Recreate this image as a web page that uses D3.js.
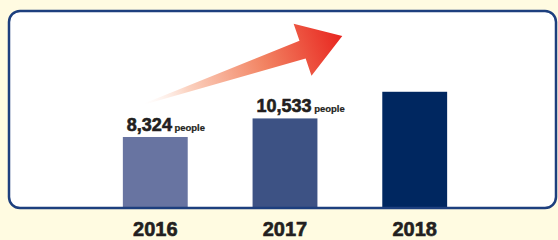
<!DOCTYPE html>
<html>
<head>
<meta charset="utf-8">
<script src="https://cdn.jsdelivr.net/npm/d3@7"></script>
<style>
  body { margin: 0; background: #fffbe1; }
  svg { display: block; }
</style>
</head>
<body>
<script>
// data
var years = ["2016", "2017", "2018"];
var people = [8324, 10533, 13700];
var showLabel = [true, true, false];
var barColors = ["#6874a1", "#3d5284", "#002760"];

var fmt = d3.format(",");

var width = 558, height = 240,
    box = {left: 9, top: 11, right: 556, bottom: 208},
    base = 207;

var svg = d3.select("body").append("svg")
    .attr("width", width)
    .attr("height", height);

var x = d3.scaleBand()
    .domain(years)
    .range([58, 512])
    .padding(0.5);

var y = d3.scaleLinear()
    .domain([0, 10000])
    .range([base, base - 84.1]);

// panel
svg.append("rect")
    .attr("x", box.left).attr("y", box.top)
    .attr("width", box.right - box.left).attr("height", box.bottom - box.top)
    .attr("rx", 11)
    .attr("fill", "#fff");

// arrow gradient
var defs = svg.append("defs");
var grad = defs.append("linearGradient")
    .attr("id", "arrowGrad")
    .attr("x1", "0%").attr("x2", "100%")
    .attr("y1", "0%").attr("y2", "0%");
grad.selectAll("stop")
    .data([
      {o: "0%", c: "#ffffff", a: 0.4},
      {o: "22%", c: "#fbd2c0", a: 1},
      {o: "60%", c: "#f28463", a: 1},
      {o: "100%", c: "#e8251f", a: 1}
    ])
  .enter().append("stop")
    .attr("offset", d => d.o)
    .attr("stop-color", d => d.c)
    .attr("stop-opacity", d => d.a);

// arrow placed from the first bar toward the last one
var tail = [x(years[0]) + x.bandwidth() * 0.33, y(people[0]) - 33],
    tip = [x(years[2]) - 40, box.top + 25];
var dx = tip[0] - tail[0], dy = tip[1] - tail[1],
    len = Math.sqrt(dx * dx + dy * dy),
    ang = Math.atan2(dy, dx) * 180 / Math.PI;
var headLen = 42, shaftW = 9.5, headW = 27.5;
var arrowPts = [
  [0, -0.5],
  [len - headLen, -shaftW],
  [len - headLen, -headW],
  [len, 0],
  [len - headLen, headW],
  [len - headLen, shaftW],
  [0, 0.5]
];
svg.append("path")
    .attr("transform", "translate(" + tail + ") rotate(" + ang + ")")
    .attr("d", d3.line()(arrowPts) + "Z")
    .attr("fill", "url(#arrowGrad)");

// bars
svg.selectAll(".bar")
    .data(years)
  .enter().append("rect")
    .attr("class", "bar")
    .attr("x", d => x(d))
    .attr("y", (d, i) => y(people[i]))
    .attr("width", x.bandwidth())
    .attr("height", (d, i) => base - y(people[i]))
    .attr("fill", (d, i) => barColors[i]);

// panel border on top
svg.append("rect")
    .attr("x", box.left).attr("y", box.top)
    .attr("width", box.right - box.left).attr("height", box.bottom - box.top)
    .attr("rx", 11)
    .attr("fill", "none")
    .attr("stroke", "#1d3f7e")
    .attr("stroke-width", 2.5);

// value labels
var lab = svg.selectAll(".val")
    .data(years.filter((d, i) => showLabel[i]))
  .enter().append("text")
    .attr("class", "val")
    .attr("x", d => x(d) + 4)
    .attr("y", d => y(people[years.indexOf(d)]) - 6)
    .attr("font-family", "Liberation Sans, Arial, sans-serif")
    .attr("font-weight", "bold")
    .attr("fill", "#231f20")
    .attr("stroke", "#231f20");
lab.append("tspan")
    .attr("font-size", 18)
    .attr("stroke-width", 0.6)
    .text(d => fmt(people[years.indexOf(d)]));
lab.append("tspan")
    .attr("font-size", 9.5)
    .attr("stroke-width", 0.2)
    .attr("dx", 2.5)
    .text("people");

// year axis
var xAxis = svg.append("g")
    .attr("transform", "translate(0," + 236 + ")")
    .call(d3.axisBottom(x).tickSize(0).tickPadding(0));
xAxis.select(".domain").remove();
xAxis.selectAll("text")
    .attr("dy", 0)
    .attr("font-family", "Liberation Sans, Arial, sans-serif")
    .attr("font-weight", "bold")
    .attr("font-size", 20)
    .attr("fill", "#231f20")
    .attr("stroke", "#231f20")
    .attr("stroke-width", 0.6);
</script>
</body>
</html>
